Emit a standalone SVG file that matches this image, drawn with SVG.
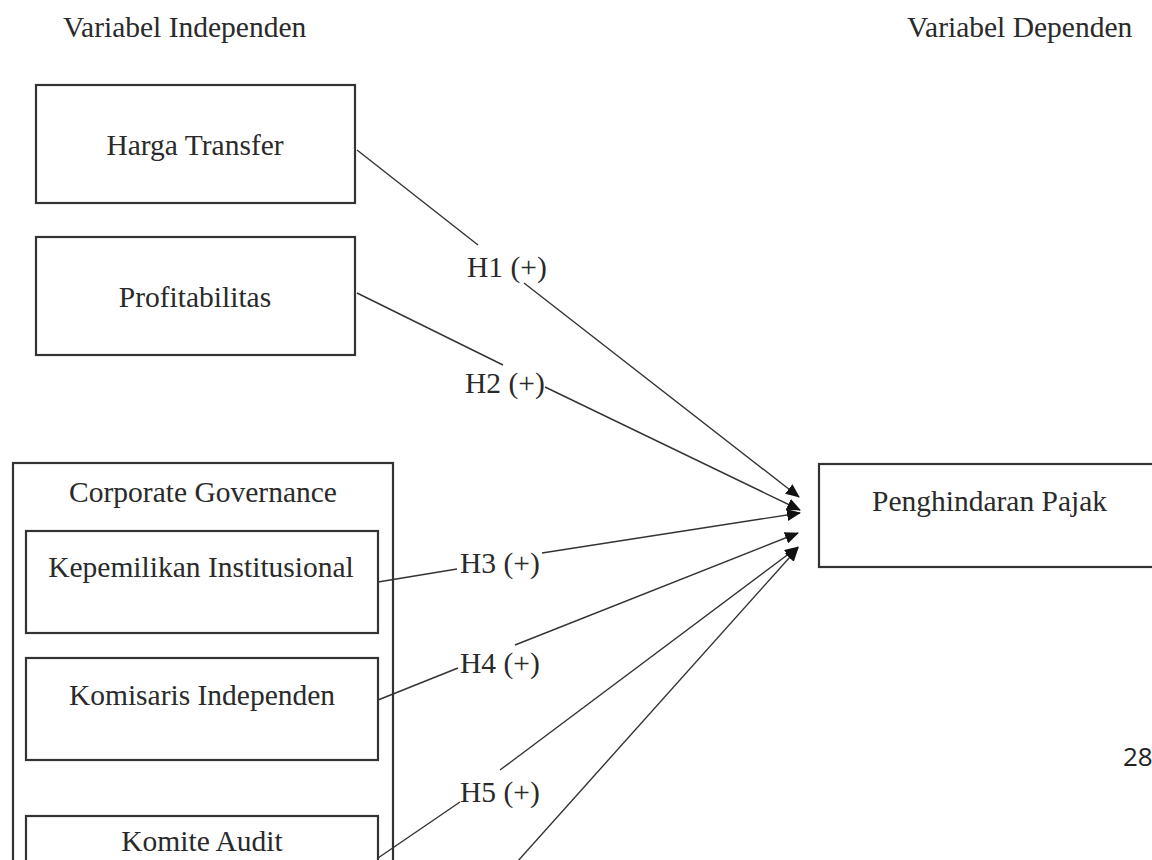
<svg xmlns="http://www.w3.org/2000/svg" width="1152" height="860" viewBox="0 0 1152 860">
<style>
.t{font-family:"Liberation Serif","Times New Roman",serif;font-size:29.5px;fill:#2a2a2a}
.c{text-anchor:middle}
.box{fill:#fff;stroke:#333;stroke-width:2.2}
.ln{fill:none;stroke:#333;stroke-width:1.4}
</style>
<defs>
<marker id="ah" markerUnits="userSpaceOnUse" markerWidth="14" markerHeight="12" refX="13" refY="6" orient="auto">
<path d="M0,0 L14,6 L0,12 Z" fill="#111"/>
</marker>
</defs>
<rect width="1152" height="860" fill="#fff"/>
<text class="t" x="63" y="37">Variabel Independen</text>
<text class="t" x="907" y="37">Variabel Dependen</text>
<g id="harga-transfer">
<rect class="box" x="36" y="85" width="319" height="118"/>
<text class="t c" x="195" y="155">Harga Transfer</text>
</g>
<g id="profitabilitas">
<rect class="box" x="36" y="237" width="319" height="118"/>
<text class="t c" x="195" y="307">Profitabilitas</text>
</g>
<g id="corporate-governance">
<rect class="box" x="13" y="463" width="380" height="420"/>
<text class="t c" x="203" y="502">Corporate Governance</text>
</g>
<g id="kepemilikan-institusional">
<rect class="box" x="26" y="531" width="352" height="102"/>
<text class="t c" x="201" y="577">Kepemilikan Institusional</text>
</g>
<g id="komisaris-independen">
<rect class="box" x="26" y="658" width="352" height="102"/>
<text class="t c" x="202" y="705">Komisaris Independen</text>
</g>
<g id="komite-audit">
<rect class="box" x="26" y="816" width="352" height="102"/>
<text class="t c" x="202" y="851">Komite Audit</text>
</g>
<g id="penghindaran-pajak">
<rect class="box" x="819" y="464" width="360" height="103"/>
<text class="t" x="872" y="511">Penghindaran Pajak</text>
</g>
<g id="connectors">
<line class="ln" x1="357" y1="150" x2="478" y2="245"/>
<line class="ln" x1="524" y1="283" x2="799" y2="497" marker-end="url(#ah)"/>
<line class="ln" x1="357" y1="293" x2="503" y2="365"/>
<line class="ln" x1="545" y1="387" x2="800" y2="510" marker-end="url(#ah)"/>
<line class="ln" x1="378" y1="582" x2="457" y2="569"/>
<line class="ln" x1="542" y1="553" x2="800" y2="513" marker-end="url(#ah)"/>
<line class="ln" x1="378" y1="700" x2="458" y2="668"/>
<line class="ln" x1="515" y1="645" x2="798" y2="533" marker-end="url(#ah)"/>
<line class="ln" x1="378" y1="858" x2="460" y2="802"/>
<line class="ln" x1="500" y1="770" x2="798" y2="547" marker-end="url(#ah)"/>
<line class="ln" x1="517" y1="862" x2="798" y2="548" marker-end="url(#ah)"/>
<text class="t" x="467" y="277">H1 (+)</text>
<text class="t" x="465" y="393">H2 (+)</text>
<text class="t" x="460" y="573">H3 (+)</text>
<text class="t" x="460" y="673">H4 (+)</text>
<text class="t" x="460" y="802">H5 (+)</text>
</g>
<text x="1123" y="766" style="font-family:'Open Sans','Liberation Sans',sans-serif;font-size:26px;fill:#222">28</text>
</svg>
